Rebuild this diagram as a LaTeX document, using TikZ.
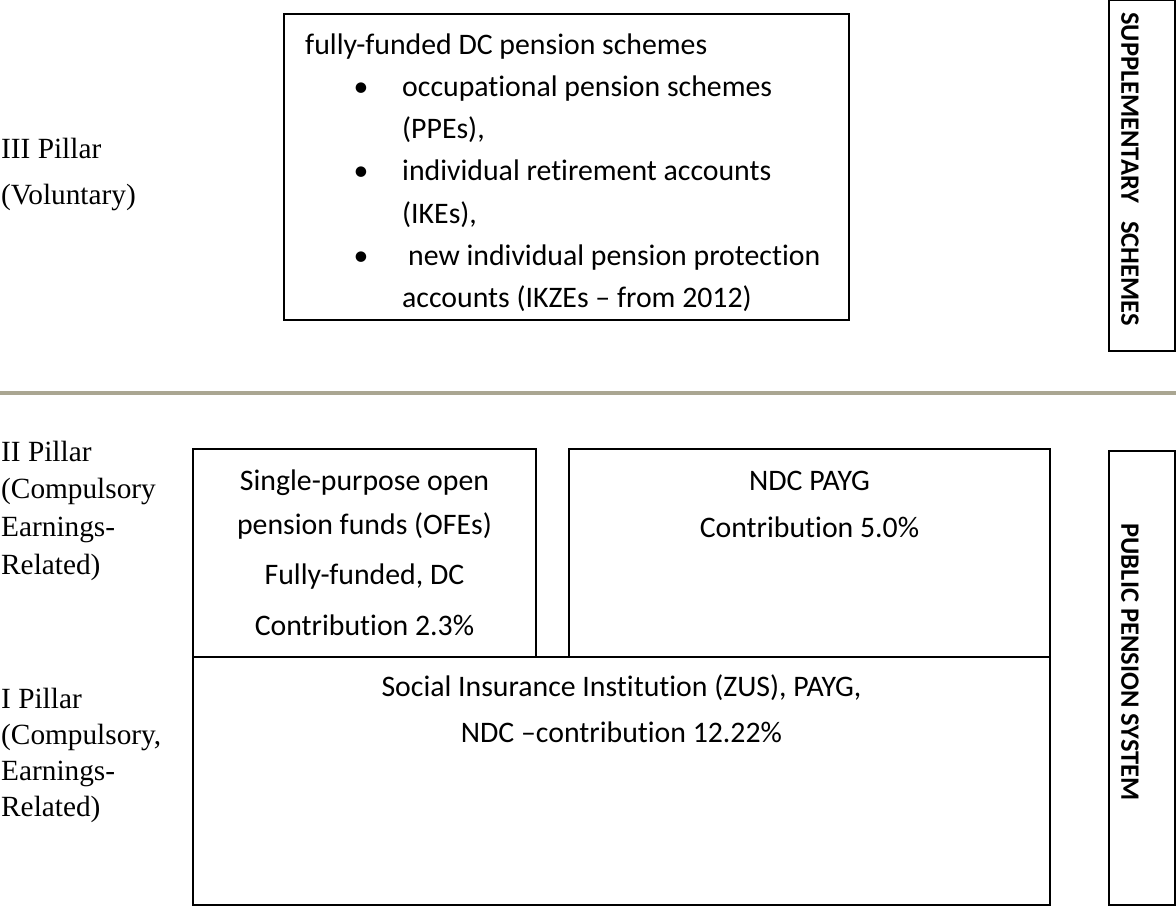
\documentclass[tikz,border=0pt]{standalone}
\usepackage{fontspec}
\setmainfont{Liberation Serif}
\newfontfamily\calibrifont[Ligatures={NoCommon,NoContextual}]{Carlito}
\usepackage{tikz}
\tikzstyle{boxtxt}=[inner sep=0pt, font=\calibrifont\fontsize{29.8}{35}\selectfont]
\tikzstyle{pillartxt}=[inner sep=0pt, anchor=base west, font=\fontsize{29.3}{35}\selectfont]
\tikzstyle{sidetxt}=[inner sep=0pt, rotate=-90, font=\calibrifont\bfseries\fontsize{26.5}{32}\selectfont]
\tikzstyle{pillarbox}=[draw=black, line width=2.7pt]
\tikzstyle{sidebox}=[draw=black, line width=1.3pt]
\definecolor{rulegray}{RGB}{170,166,146}

\begin{document}
\begin{tikzpicture}[x=1pt,y=-1pt]
    \useasboundingbox (0,0) rectangle (1176,908);

    % III Pillar
    \draw[pillarbox] (284,14) rectangle (849,320);
    \node[boxtxt, anchor=base west] (dc) at (305,54) {fully-funded DC pension schemes};
    \foreach \yy/\txt [count=\k] in {96.3/occupational pension schemes, 138.6/{(PPEs),},
        180.9/individual retirement accounts, 223.2/{(IKEs),},
        265.5/{\hspace*{6pt}new individual pension protection}, 307.8/{accounts (IKZEs – from 2012)}}
      \node[boxtxt, anchor=base west] (dc-\k) at (402,\yy) {\txt};
    \foreach \yy [count=\k] in {96.3,180.9,265.5}
      \node[boxtxt, anchor=base] (bul-\k) at (361,\yy) {\textbullet};
    \node[pillartxt] (p3) at (1,158) {III Pillar};
    \node[pillartxt] (p3v) at (1,204) {(Voluntary)};
    \draw[sidebox] (1109,0.6) rectangle (1175,351);
    \node[sidetxt] (supp) at (1130,169) {SUPPLEMENTARY\hspace{18pt}SCHEMES};

    \draw[rulegray, line width=4pt] (0,393) -- (1176,393);

    % II Pillar
    \draw[pillarbox] (193,449) rectangle (536,657);
    \draw[pillarbox] (569,449) rectangle (1050,657);
    \foreach \yy/\txt [count=\k] in {490/Single-purpose open, 534/pension funds (OFEs),
        584/{Fully-funded, DC}, 635/Contribution 2.3\%}
      \node[boxtxt, anchor=base] (ofe-\k) at (364.5,\yy) {\txt};
    \node[boxtxt, anchor=base] (ndc) at (809.5,490) {NDC PAYG};
    \node[boxtxt, anchor=base] (ndc-c) at (809.5,537) {Contribution 5.0\%};
    \foreach \yy/\txt [count=\k] in {461/II Pillar, 498/(Compulsory, 536/Earnings-, 574/Related)}
      \node[pillartxt] (p2-\k) at (1,\yy) {\txt};

    % I Pillar
    \draw[pillarbox] (193,657) rectangle (1050,905);
    \node[boxtxt, anchor=base] (zus) at (621.5,696) {Social Insurance Institution (ZUS), PAYG,};
    \node[boxtxt, anchor=base] (zus-c) at (621.5,742) {NDC –contribution 12.22\%};
    \foreach \yy/\txt [count=\k] in {708/I Pillar, 744/{(Compulsory,}, 780/Earnings-, 816/Related)}
      \node[pillartxt] (p1-\k) at (1,\yy) {\txt};

    \draw[sidebox] (1109,451) rectangle (1175,905);
    \node[sidetxt] (pps) at (1130,662) {PUBLIC PENSION SYSTEM};
\end{tikzpicture}
\end{document}
